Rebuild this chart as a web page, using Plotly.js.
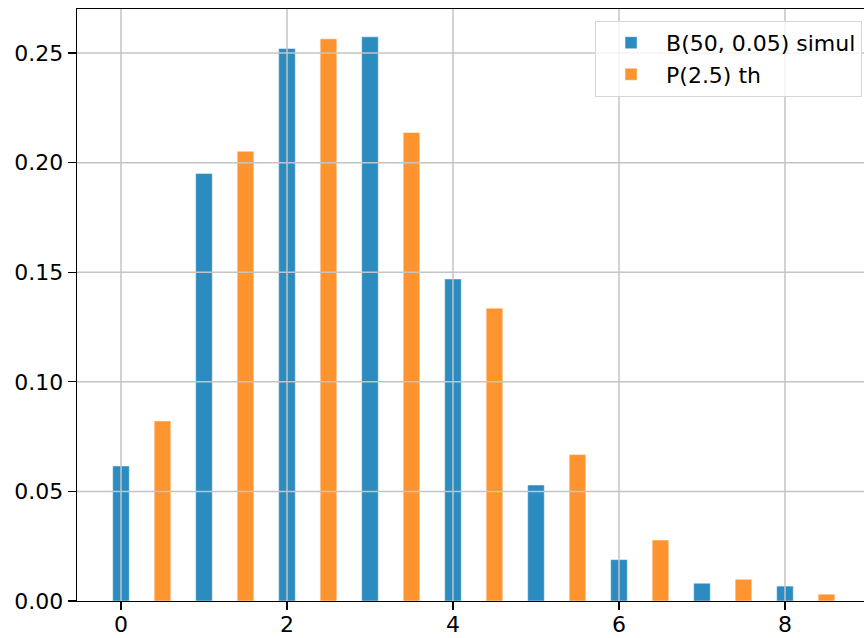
<!DOCTYPE html>
<html>
<head>
<meta charset="utf-8">
<script src="https://cdn.plot.ly/plotly-3.0.1.min.js"></script>
<style>html,body{margin:0;padding:0;overflow:hidden;background:#fff}#chart{width:864px;height:638px}</style>
</head>
<body>
<div id="chart"></div>
<script>
// Data
var k = [0, 1, 2, 3, 4, 5, 6, 7, 8];
var simulName = 'B(50, 0.05) simul';
var simulValues = [0.0616, 0.1951, 0.2521, 0.2574, 0.1469, 0.0529, 0.0189, 0.0081, 0.0068];
var theoName = 'P(2.5) th';
var theoValues = [0.0821, 0.2052, 0.2565, 0.2138, 0.1336, 0.0668, 0.0278, 0.0099, 0.0031];
var xTicks = [0, 2, 4, 6, 8];
var yTicks = [0, 0.05, 0.10, 0.15, 0.20, 0.25];

var theoX = k.map(function (v) { return v + 0.5; });
var gridColor = '#c4c4c4';

var traces = [
  {type: 'bar', name: simulName, x: k, y: simulValues, width: 0.2,
   marker: {color: '#2c8cc0', line: {color: 'rgba(255,255,255,0.45)', width: 1}}},
  {type: 'bar', name: theoName, x: theoX, y: theoValues, width: 0.2,
   marker: {color: '#fe9430', line: {color: 'rgba(255,255,255,0.45)', width: 1}}}
];

// grid lines drawn above bars (as in the reference)
var shapes = [];
xTicks.forEach(function (t) {
  shapes.push({type: 'line', xref: 'x', yref: 'paper', x0: t, x1: t, y0: 0, y1: 1,
               layer: 'above', line: {color: gridColor, width: 1.5}});
});
yTicks.forEach(function (t) {
  if (t === 0) return;
  shapes.push({type: 'line', xref: 'paper', yref: 'y', x0: 0, x1: 1, y0: t, y1: t,
               layer: 'above', line: {color: gridColor, width: 1.5}});
});

var fontSize = 22;
var layout = {
  width: 864, height: 638,
  margin: {l: 77, r: 0, t: 9, b: 37, pad: 0},
  paper_bgcolor: '#ffffff', plot_bgcolor: '#ffffff',
  font: {family: 'DejaVu Sans', size: fontSize, color: '#000'},
  showlegend: true,
  bargap: 0,
  xaxis: {
    range: [-0.53, 8.952], tickvals: xTicks, ticktext: xTicks.map(String),
    showgrid: false, zeroline: false,
    showline: true, linecolor: '#000', linewidth: 1.3, mirror: true,
    ticks: 'outside', ticklen: 8, tickwidth: 1.3, tickcolor: '#000',
    ticklabelstandoff: -5,
    tickfont: {family: 'DejaVu Sans', size: fontSize, color: '#000'},
    layer: 'above traces'
  },
  yaxis: {
    range: [0, 0.2701], tickvals: yTicks, ticktext: yTicks.map(function (v) { return v.toFixed(2); }),
    showgrid: false, zeroline: false,
    showline: true, linecolor: '#000', linewidth: 1.3,
    ticks: 'outside', ticklen: 8, tickwidth: 1.3, tickcolor: '#000',
    tickfont: {family: 'DejaVu Sans', size: fontSize, color: '#000'},
    layer: 'above traces'
  },
  legend: {
    x: 0.9975, y: 0.98, xanchor: 'right', yanchor: 'top',
    bgcolor: 'rgba(255,255,255,0.8)', bordercolor: '#d6d6d6', borderwidth: 1,
    font: {family: 'DejaVu Sans', size: fontSize, color: '#000'},
    itemwidth: 60, tracegroupgap: 4
  },
  shapes: shapes
};

Plotly.newPlot('chart', traces, layout, {displayModeBar: false, staticPlot: true});
</script>
</body>
</html>
